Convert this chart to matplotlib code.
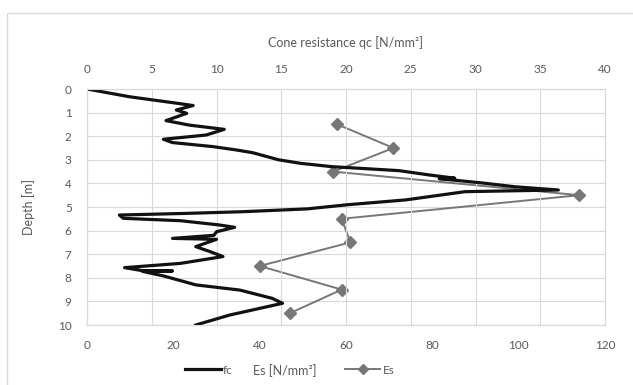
import matplotlib.pyplot as plt
from matplotlib.lines import Line2D
from matplotlib.patches import Rectangle

# cone resistance profile (top axis)
qc = [0.0, 3.3, 6.9, 8.2, 6.9, 7.7, 6.1, 7.9, 10.6, 9.2, 5.9, 6.6, 9.7, 11.5, 12.8,
      14.8, 16.5, 18.9, 24.1, 26.4, 28.4, 27.2, 30.5, 33.0, 36.4, 29.2, 24.6, 20.2,
      17.0, 12.0, 7.7, 2.5, 2.8, 7.2, 10.2, 11.4, 10.0, 9.8, 6.6, 10.0, 8.4, 9.5,
      10.5, 7.2, 2.9, 4.3, 6.6, 4.3, 5.9, 8.4, 11.8, 14.3, 15.1, 11.0, 8.4]
depth_qc = [0.0, 0.33, 0.6, 0.7, 0.89, 1.03, 1.34, 1.53, 1.71, 1.95, 2.13, 2.27, 2.44,
            2.58, 2.7, 3.0, 3.15, 3.29, 3.46, 3.64, 3.78, 3.8, 3.98, 4.14, 4.28, 4.35,
            4.7, 4.9, 5.08, 5.2, 5.27, 5.34, 5.48, 5.58, 5.76, 5.86, 6.05, 6.2, 6.33,
            6.37, 6.68, 6.89, 7.1, 7.39, 7.57, 7.7, 7.71, 7.73, 7.92, 8.3, 8.52, 8.87,
            9.08, 9.58, 10.0]

# stiffness modulus (bottom axis)
es = [58, 71, 57, 114, 59, 61, 40, 59, 47]
depth_es = [1.5, 2.5, 3.5, 4.5, 5.5, 6.5, 7.5, 8.5, 9.5]

plt.rcParams['font.family'] = ['Lato', 'DejaVu Sans']
txt = '#595959'
grid = '#d9d9d9'

fig = plt.figure(figsize=(6.33, 3.85), dpi=100)
fig.patches.append(Rectangle((7 / 633, -0.01), 1.0, 1 - 13 / 385 + 0.01,
                             transform=fig.transFigure, fill=False,
                             edgecolor=grid, linewidth=1))

ax = fig.add_axes([87 / 633, 1 - 325 / 385, 518 / 633, 236 / 385])
ax2 = ax.twiny()

ax.plot(es, depth_es, color='#777777', linewidth=1.4, marker='D', markersize=6.5, zorder=3)
ax2.plot(qc, depth_qc, color='#111111', linewidth=2.3)

ax.set_xlim(0, 120)
ax.set_xticks(range(0, 121, 20))
ax2.set_xlim(0, 40)
ax2.set_xticks(range(0, 41, 5))
ax.set_ylim(10, 0)
ax.set_yticks(range(0, 11))

ax2.grid(axis='x', color=grid, linewidth=0.8)
ax.grid(axis='y', color=grid, linewidth=0.8)
ax.set_axisbelow(True)
ax2.set_axisbelow(True)

for a in (ax, ax2):
    for s in a.spines.values():
        s.set_color(grid)
ax.tick_params(axis='x', length=0, pad=11, labelsize=8.5, labelcolor=txt)
ax.tick_params(axis='y', length=0, pad=11, labelsize=8.5, labelcolor=txt)
ax2.tick_params(axis='x', length=0, pad=10, labelsize=8.5, labelcolor=txt)

ax.set_xlabel('Es [N/mm²]', fontsize=9, color=txt)
ax.xaxis.set_label_coords(0.382, -0.165)
ax2.set_xlabel('Cone resistance qc [N/mm²]', fontsize=9, color=txt)
ax2.xaxis.set_label_coords(0.5, 1.178)
ax.set_ylabel('Depth [m]', fontsize=9, color=txt)
ax.yaxis.set_label_coords(-0.1, 0.5)

handles = [Line2D([], [], color='#111111', linewidth=2.3),
           Line2D([], [], color='#777777', linewidth=1.4, marker='D', markersize=5.5)]
leg = fig.legend(handles, ['fc', 'Es'], ncol=2, loc='center',
                 bbox_to_anchor=(290 / 633, 1 - 370 / 385), frameon=False,
                 fontsize=8.5, handlelength=3, handletextpad=0.2, columnspacing=9.5)
for t in leg.get_texts():
    t.set_color(txt)

fig.savefig('out.png', dpi=100)
